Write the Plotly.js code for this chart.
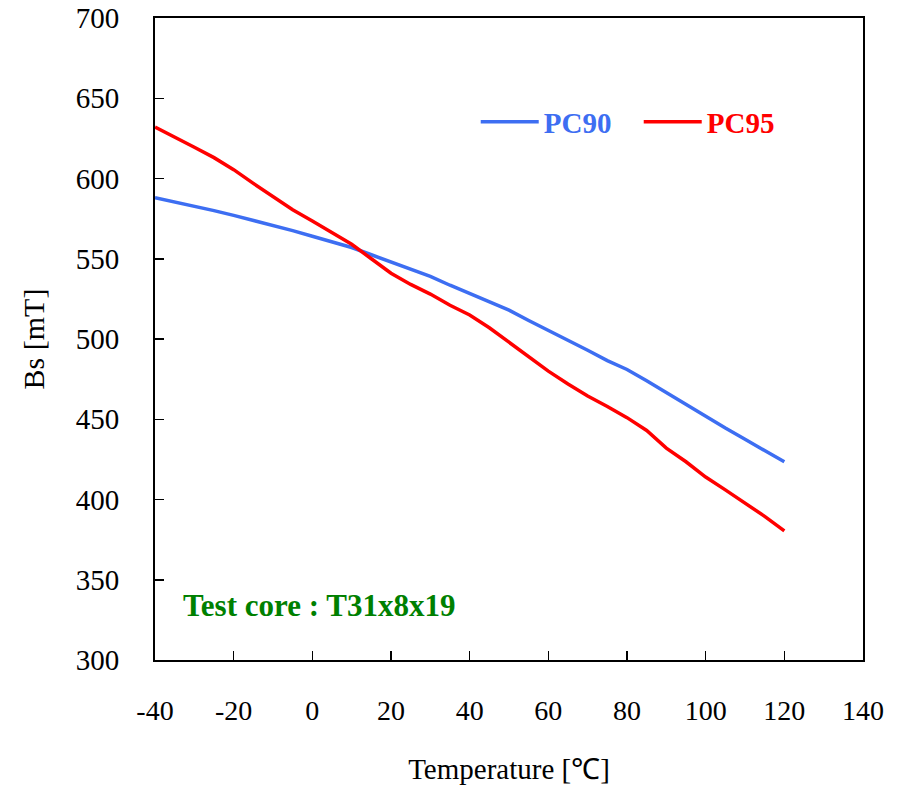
<!DOCTYPE html>
<html>
<head>
<meta charset="utf-8">
<script src="https://cdn.plot.ly/plotly-3.0.1.min.js"></script>
<style>html,body{margin:0;padding:0;background:#fff;}</style>
</head>
<body>
<div id="chart" style="width:907px;height:796px;"></div>
<script>
const temperature = [-40,-35,-30,-25,-20,-15,-10,-5,0,5,10,15,20,25,30,35,40,45,50,55,60,65,70,75,80,85,90,95,100,105,110,115,120];
const pc90 = [588,585.5,583,580,577,574,571,567.5,564,560.5,557,552.5,548,543.5,539,533.5,528.5,523.5,518,511.5,505.5,499,493,486.5,481,474,466.5,459,451.5,444.5,437.5,430.5,423.5];
const pc95 = [632,626,619.5,613,605.5,597,588.5,580.5,573.5,566,559,550,541,534,528,521,515,507,498,489,480,472,464.5,458,451,443,432,423.5,414,406,398,389.5,380.5];
const seriesNames = ['PC90','PC95'];
const xTicks = [-40,-20,0,20,40,60,80,100,120,140];
const yTicks = [300,350,400,450,500,550,600,650,700];
const noteText = 'Test core : T31x8x19';

const blue = '#3d6ef2';
const red = '#ff0000';
const serif = 'Liberation Serif, Times New Roman, serif';

const traces = [
  {x: temperature, y: pc90, type: 'scatter', mode: 'lines', name: '<span style="color:' + blue + '">' + seriesNames[0] + '</span>', line: {color: blue, width: 3.5}},
  {x: temperature, y: pc95, type: 'scatter', mode: 'lines', name: '<span style="color:' + red + '">' + seriesNames[1] + '</span>', line: {color: red, width: 3.5}}
];

const layout = {
  width: 907, height: 796,
  margin: {l: 155, r: 44, t: 18, b: 136},
  paper_bgcolor: '#fff', plot_bgcolor: '#fff',
  font: {family: serif, size: 28, color: '#000'},
  showlegend: true,
  legend: {orientation: 'h', x: 0.453, y: 0.838, xanchor: 'left', yanchor: 'middle',
           bgcolor: 'rgba(0,0,0,0)', font: {family: serif, size: 29, weight: 'bold'},
           itemwidth: 58, entrywidth: 90},
  xaxis: {range: [-40, 140], tickvals: xTicks, ticktext: xTicks.map(String),
          ticks: 'inside', ticklen: 9, tickwidth: 1.5, tickcolor: '#000',
          showline: true, linecolor: '#000', linewidth: 2, mirror: true,
          showgrid: false, zeroline: false, ticklabelstandoff: 24, automargin: false,
          tickfont: {family: serif, size: 28},
          title: {text: 'Temperature [℃]', font: {family: serif, size: 29}, standoff: 34}},
  yaxis: {range: [300, 700], tickvals: yTicks, ticktext: yTicks.map(String),
          ticks: 'inside', ticklen: 9, tickwidth: 1.5, tickcolor: '#000',
          showline: true, linecolor: '#000', linewidth: 2, mirror: true,
          showgrid: false, zeroline: false, ticklabelstandoff: 28, automargin: false,
          tickfont: {family: serif, size: 29},
          title: {text: 'Bs [mT]', font: {family: serif, size: 30}, standoff: 22}},
  annotations: [{xref: 'x', yref: 'y', x: -33.5, y: 334, xanchor: 'left', yanchor: 'middle',
                 text: '<b>' + noteText + '</b>', showarrow: false,
                 font: {family: serif, size: 31, color: '#008000'}}]
};

Plotly.newPlot('chart', traces, layout, {displayModeBar: false, staticPlot: true});
</script>
</body>
</html>
